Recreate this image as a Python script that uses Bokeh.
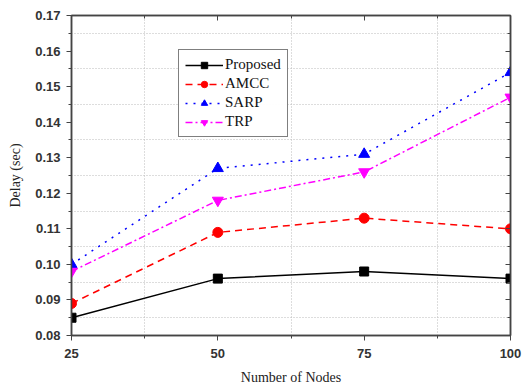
from bokeh.plotting import figure
from bokeh.models import (FixedTicker, LinearAxis, Range1d, Legend, LegendItem,
                          NumeralTickFormatter, CustomJSTickFormatter)
from bokeh.embed import file_html
from bokeh.resources import INLINE

nodes = [25, 50, 75, 100]
proposed = [0.085, 0.096, 0.098, 0.096]
amcc = [0.089, 0.109, 0.113, 0.110]
sarp = [0.100, 0.127, 0.131, 0.154]
trp = [0.098, 0.118, 0.126, 0.147]

x_ticks = [25, 50, 75, 100]
x_minor = [37.5, 62.5, 87.5]
y_ticks = [0.08, 0.09, 0.10, 0.11, 0.12, 0.13, 0.14, 0.15, 0.16, 0.17]
y_minor = [0.085, 0.095, 0.105, 0.115, 0.125, 0.135, 0.145, 0.155, 0.165]

p = figure(width=526, height=387, output_backend="svg", toolbar_location=None,
           x_range=Range1d(25, 100), y_range=Range1d(0.08, 0.17),
           min_border_left=71, min_border_right=16, min_border_top=15,
           min_border_bottom=47, background_fill_color="white",
           border_fill_color="white")
p.outline_line_color = "#444444"
p.outline_line_width = 1.5

axcol = "#444444"
for ax in p.xaxis:
    ax.ticker = FixedTicker(ticks=x_ticks, minor_ticks=x_minor)
    ax.axis_label = "Number of Nodes"
for ax in p.yaxis:
    ax.ticker = FixedTicker(ticks=y_ticks, minor_ticks=y_minor)
    ax.formatter = NumeralTickFormatter(format="0.00")
    ax.axis_label = "Delay (sec)"

for ax in list(p.xaxis) + list(p.yaxis):
    ax.axis_line_color = axcol
    ax.axis_line_width = 1.5
    ax.major_tick_line_color = axcol
    ax.minor_tick_line_color = axcol
    ax.major_tick_in = 0
    ax.major_tick_out = 5
    ax.minor_tick_in = 0
    ax.minor_tick_out = 3
    ax.major_label_text_font = "Liberation Sans"
    ax.major_label_text_font_size = "13px"
    ax.major_label_text_color = "#333333"
    ax.major_label_text_font_style = "bold"
    ax.axis_label_text_font = "Liberation Serif"
    ax.axis_label_text_font_size = "14px"
    ax.axis_label_text_font_style = "normal"
    ax.axis_label_text_color = "#222222"
    ax.axis_label_standoff = 9

p.xaxis.major_label_standoff = 8
p.yaxis.major_label_standoff = 6

blank = CustomJSTickFormatter(code="return '';")
top = LinearAxis(ticker=FixedTicker(ticks=x_ticks, minor_ticks=x_minor), formatter=blank)
right = LinearAxis(ticker=FixedTicker(ticks=y_ticks, minor_ticks=y_minor), formatter=blank)
for ax in (top, right):
    ax.axis_line_color = axcol
    ax.axis_line_width = 1.5
    ax.major_tick_line_color = axcol
    ax.minor_tick_line_color = axcol
    ax.major_tick_in = 5
    ax.major_tick_out = 0
    ax.minor_tick_in = 3
    ax.minor_tick_out = 0
    ax.major_label_standoff = 0
p.add_layout(top, "above")
p.add_layout(right, "right")

for g, t in ((p.xgrid, x_minor), (p.ygrid, y_minor)):
    g.ticker = FixedTicker(ticks=t)
    g.grid_line_color = "#bbbbbb"
    g.grid_line_dash = "1 2"
    g.grid_line_width = 1

lw = 1.5
r1 = p.line(nodes, proposed, color="black", line_width=lw)
m1 = p.scatter(nodes, proposed, marker="square", size=9, color="black")
r2 = p.line(nodes, amcc, color="red", line_width=lw, line_dash="7 5")
m2 = p.scatter(nodes, amcc, marker="circle", size=10, color="red")
r3 = p.line(nodes, sarp, color="blue", line_width=lw, line_dash="2 6")
m3 = p.scatter(nodes, sarp, marker="triangle", size=11, color="blue")
r4 = p.line(nodes, trp, color="magenta", line_width=lw, line_dash="7 3 2 3")
m4 = p.scatter(nodes, trp, marker="inverted_triangle", size=11, color="magenta")

legend = Legend(items=[
    LegendItem(label="Proposed", renderers=[r1, m1]),
    LegendItem(label="AMCC", renderers=[r2, m2]),
    LegendItem(label="SARP", renderers=[r3, m3]),
    LegendItem(label="TRP", renderers=[r4, m4]),
], location=(107, 198))
legend.label_text_font = "Liberation Serif"
legend.label_text_font_size = "15px"
legend.label_text_color = "#111111"
legend.border_line_color = "black"
legend.border_line_width = 1.5
legend.glyph_width = 38
legend.glyph_height = 16
legend.spacing = 2
legend.padding = 6
legend.margin = 0
legend.label_standoff = 2
legend.label_height = 16
p.add_layout(legend, "center")

open("out.html", "w").write(file_html(p, INLINE))
